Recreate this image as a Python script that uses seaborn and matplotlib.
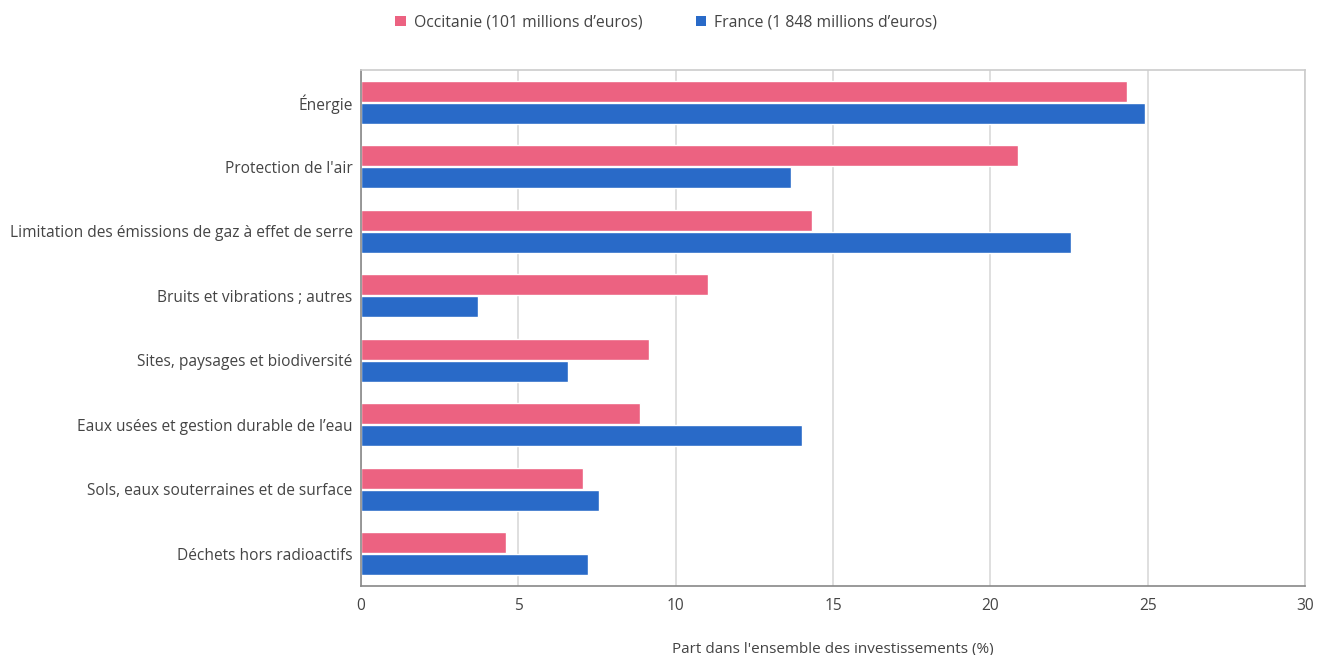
import matplotlib
matplotlib.use("Agg")
import matplotlib.pyplot as plt
import seaborn as sns
import pandas as pd
from matplotlib.patches import Patch

categories = [
    "Énergie",
    "Protection de l'air",
    "Limitation des émissions de gaz à effet de serre",
    "Bruits et vibrations ; autres",
    "Sites, paysages et biodiversité",
    "Eaux usées et gestion durable de l’eau",
    "Sols, eaux souterraines et de surface",
    "Déchets hors radioactifs",
]
occitanie = [24.33, 20.87, 14.32, 11.02, 9.14, 8.86, 7.07, 4.60]
france = [24.90, 13.65, 22.55, 3.71, 6.57, 14.00, 7.55, 7.20]
series_names = ["Occitanie (101 millions d’euros)", "France (1 848 millions d’euros)"]
colors = ["#EC6281", "#296AC8"]
xticks = [0, 5, 10, 15, 20, 25, 30]
xlabel = "Part dans l'ensemble des investissements (%)"

df = pd.DataFrame({
    "cat": categories * 2,
    "val": occitanie + france,
    "serie": [series_names[0]] * len(categories) + [series_names[1]] * len(categories),
})

sns.set_theme(style="white")
plt.rcParams["font.family"] = ["Open Sans", "DejaVu Sans"]

fig = plt.figure(figsize=(13.17, 6.55), dpi=100)
ax = fig.add_axes([361 / 1317, 1 - 586 / 655, (1305 - 361) / 1317, (586 - 70) / 655])

sns.barplot(data=df, x="val", y="cat", hue="serie", order=categories,
            hue_order=series_names, palette=colors, orient="h",
            width=0.69, gap=0.05, saturation=1, legend=False, ax=ax)

ax.set_xlim(0, 30)
ax.set_ylim(len(categories) - 0.5, -0.5)
ax.set_xticks(xticks)
ax.set_xticklabels([str(t) for t in xticks])
ax.grid(axis="x", color="#d9d9d9", linewidth=1.2)
ax.set_axisbelow(True)
for s in ["top", "right"]:
    ax.spines[s].set_color("#cccccc")
    ax.spines[s].set_linewidth(1.2)
for s in ["left", "bottom"]:
    ax.spines[s].set_color("#888888")
    ax.spines[s].set_linewidth(1.2)
ax.tick_params(axis="both", length=0, labelsize=11.2, colors="#444444")
ax.tick_params(axis="y", pad=6)
ax.tick_params(axis="x", pad=9)
ax.set_ylabel("")
ax.set_xlabel(xlabel, fontsize=11, color="#444444", labelpad=20)

handles = [Patch(facecolor=c, edgecolor="none") for c in colors]
fig.legend(handles, series_names, loc="center", bbox_to_anchor=(0.506, 0.966),
           ncol=2, frameon=False, fontsize=11.3, handlelength=0.65, handleheight=0.65,
           handletextpad=0.5, columnspacing=3.45, labelcolor="#444444")

fig.savefig("out.png", dpi=100)
